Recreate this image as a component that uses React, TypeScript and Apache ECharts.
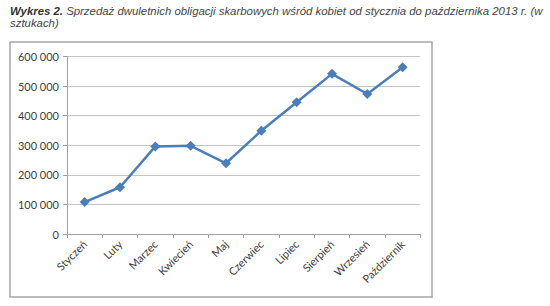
import React, { useEffect, useRef } from "react";
import * as echarts from "echarts";

const months = ["Styczeń", "Luty", "Marzec", "Kwiecień", "Maj", "Czerwiec", "Lipiec", "Sierpień", "Wrzesień", "Październik"];
const sales = [108000, 158000, 296000, 298000, 239000, 349000, 445000, 541000, 473000, 563000];
const yTicks = { min: 0, max: 600000, interval: 100000 };
const titleBold = "Wykres 2.";
const titleLine1 = " Sprzedaż dwuletnich obligacji skarbowych wśród kobiet od stycznia do października 2013 r. (w";
const titleLine2 = "sztukach)";

const fmt = (v: number) => String(v).replace(/\B(?=(\d{3})+(?!\d))/g, " ");

export default function App() {
  const ref = useRef<HTMLDivElement>(null);
  useEffect(() => {
    const chart = echarts.init(ref.current!, null, { renderer: "svg" });
    chart.setOption({
      animation: false,
      backgroundColor: "#ffffff",
      graphic: [
        {
          type: "rect",
          shape: { x: 10, y: 42, width: 422, height: 255 },
          style: { fill: "none", stroke: "#a6a6a6", lineWidth: 1.5 },
          silent: true,
        },
        {
          type: "text",
          x: 10,
          y: 5,
          style: {
            text: "{b|" + titleBold + "}{i|" + titleLine1 + "}\n{i|" + titleLine2 + "}",
            rich: {
              b: { fontFamily: "Liberation Sans", fontStyle: "italic", fontWeight: "bold", fontSize: 11.4, fill: "#333333", lineHeight: 12 },
              i: { fontFamily: "Liberation Sans", fontStyle: "italic", fontSize: 11.4, fill: "#444444", lineHeight: 12 },
            },
          },
        },
      ],
      grid: { left: 67, top: 56.4, right: 129.7, bottom: 72, containLabel: false },
      xAxis: {
        type: "category",
        data: months,
        boundaryGap: true,
        axisLine: { lineStyle: { color: "#a0a0a0", width: 1 } },
        axisTick: { show: true, interval: 0, length: 4, lineStyle: { color: "#a0a0a0" } },
        axisLabel: {
          interval: 0,
          rotate: 45,
          margin: 8,
          fontFamily: "Lato",
          fontSize: 11,
          color: "#404040",
        },
      },
      yAxis: {
        type: "value",
        min: yTicks.min,
        max: yTicks.max,
        interval: yTicks.interval,
        axisLine: { show: true, lineStyle: { color: "#a0a0a0", width: 1 } },
        axisTick: { show: true, length: 4, lineStyle: { color: "#a0a0a0" } },
        axisLabel: { formatter: fmt, fontFamily: "Lato", fontSize: 11, color: "#404040", margin: 8 },
        splitLine: { show: true, lineStyle: { color: "#c4c4c4", width: 1 } },
      },
      series: [
        {
          type: "line",
          data: sales,
          symbol: "diamond",
          symbolSize: 10,
          lineStyle: { color: "#4a7ebb", width: 2.5 },
          itemStyle: { color: "#4a7ebb" },
        },
      ],
    });
    return () => chart.dispose();
  }, []);
  return <div ref={ref} style={{ position: "absolute", left: 0, top: 0, width: 550, height: 306 }} />;
}
